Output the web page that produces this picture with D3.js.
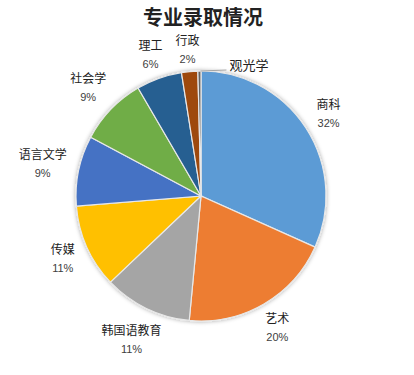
<!DOCTYPE html>
<html><head><meta charset="utf-8">
<script src="https://cdn.jsdelivr.net/npm/d3@7"></script>
<style>body{margin:0;background:#fff}svg{display:block}</style>
</head><body>
<script>
const titleText = "专业录取情况";
const categories = ["商科","艺术","韩国语教育","传媒","语言文学","社会学","理工","行政","观光学"];
const values = [31.7, 19.8, 11.4, 10.8, 9.1, 8.8, 5.9, 2.1, 0.4];
const colors = ["#5B9BD5","#ED7D31","#A5A5A5","#FFC000","#4472C4","#70AD47","#255E91","#9E480E","#636363"];

const W = 414, H = 375, cx = 201, cy = 196, r = 125;
const svg = d3.select("body").append("svg").attr("width", W).attr("height", H);
const defs = svg.append("defs");
const f = defs.append("filter").attr("id","sh").attr("x","-20%").attr("y","-20%").attr("width","140%").attr("height","140%");
f.append("feDropShadow").attr("dx",0).attr("dy",0).attr("stdDeviation",2.2).attr("flood-color","#000").attr("flood-opacity",0.35);

svg.append("text").attr("x", 203).attr("y", 25).attr("text-anchor","middle")
  .attr("font-family","'Noto Sans CJK SC'").attr("font-weight","bold").attr("font-size",20)
  .attr("fill","#222").text(titleText);

const total = d3.sum(values);
const data = categories.map((c,i)=>({name:c, value:values[i], color:colors[i]}));
const pie = d3.pie().value(d=>d.value).sort(null);
const arcs = pie(data);
const arc = d3.arc().innerRadius(0).outerRadius(r);
const g = svg.append("g").attr("transform",`translate(${cx},${cy})`);
g.append("g").attr("filter","url(#sh)").selectAll("path").data(arcs).join("path")
  .attr("d", arc).attr("fill", d=>d.data.color).attr("stroke","#e8e8e8").attr("stroke-width",1.2);

const R0 = 136, hh = 22;
arcs.forEach(d=>{
  const a = (d.startAngle + d.endAngle)/2;
  const pct = Math.round(d.data.value/total*100);
  const fs = 12;
  if (pct === 0) {
    const px = Math.sin(a)*r, py = -Math.cos(a)*r;
    g.append("line").attr("x1",px+1).attr("y1",py).attr("x2",px+27).attr("y2",py-1)
      .attr("stroke","#a6a6a6").attr("stroke-width",1);
    g.append("text").attr("x",px+30).attr("y",py-1)
      .attr("font-family","'Noto Sans CJK SC'").attr("font-size",13).attr("fill","#222")
      .text(d.data.name);
    return;
  }
  const w = d.data.name.length*fs;
  const dist = R0 + Math.abs(Math.sin(a))*w/2 + Math.abs(Math.cos(a))*hh/2;
  const x = Math.sin(a)*dist;
  const y = -Math.cos(a)*dist;
  const t = g.append("text").attr("text-anchor","middle").attr("font-family","'Noto Sans CJK SC'");
  t.append("tspan").attr("x",x).attr("y",y-4).attr("font-size",fs).attr("fill","#222").text(d.data.name);
  t.append("tspan").attr("x",x).attr("y",y+14).attr("font-size",11).attr("fill","#404040")
    .attr("font-family","'Liberation Sans', Arial").text(pct+"%");
});
</script>
</body></html>
